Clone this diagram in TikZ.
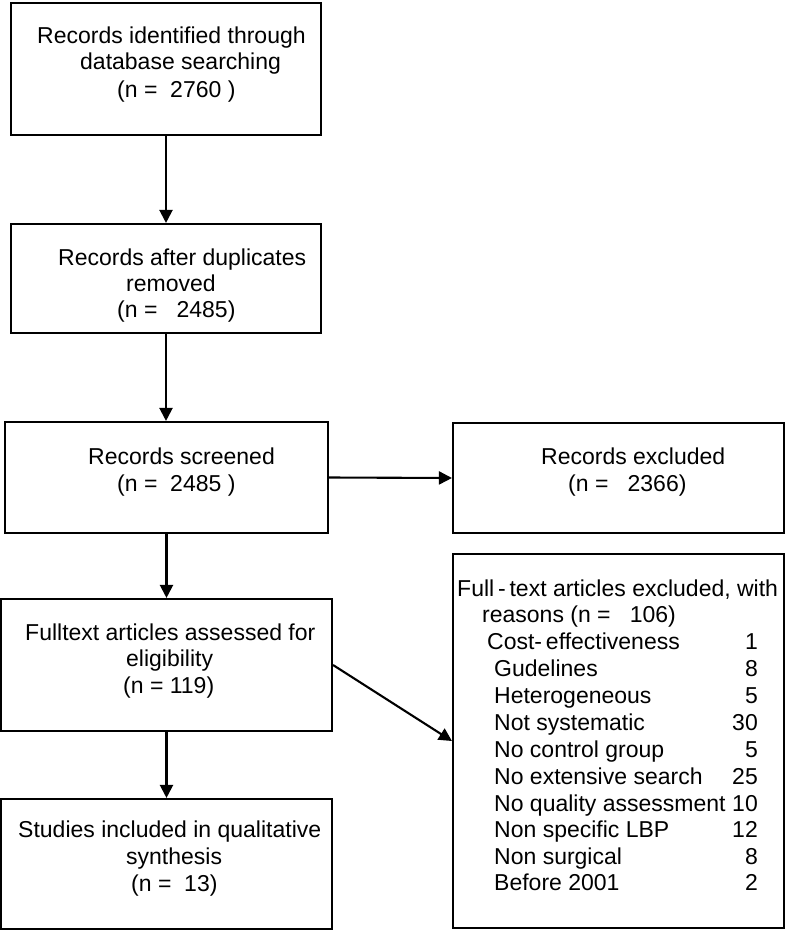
\documentclass[tikz,border=0pt]{standalone}
\usepackage{fontspec}
\setmainfont{Liberation Sans}
\usetikzlibrary{arrows.meta}
\begin{document}
\begin{tikzpicture}[x=1pt,y=-1pt,
  box/.style={draw, line width=2.1pt, rectangle, inner sep=0pt},
  txt/.style={font=\fontsize{23}{27}\selectfont, inner sep=0pt, text height=16.5pt, text depth=0pt, anchor=west},
  num/.style={txt, anchor=east},
  arr/.style={line width=2.1pt, -{Triangle[length=13pt,width=13pt]}}]
\useasboundingbox (0,0) rectangle (786,931);
% boxes
\node[box, minimum width=310pt, minimum height=132pt] (b1) at (166,69) {};
\node[box, minimum width=310pt, minimum height=109pt] (b2) at (166,278.5) {};
\node[box, minimum width=323pt, minimum height=111pt] (b3) at (166.5,477.5) {};
\node[box, minimum width=331pt, minimum height=110pt] (b4) at (618.5,478) {};
\node[box, minimum width=331pt, minimum height=132pt] (b5) at (166.5,665) {};
\node[box, minimum width=331pt, minimum height=374pt] (b6) at (618.5,741) {};
\node[box, minimum width=331pt, minimum height=130pt] (b7) at (166.5,864) {};
% box 1
\node[txt] (t1a) at (37,35) {Records identified through};
\node[txt] (t1b) at (80,61.5) {database searching};
\node[txt] (t1c) at (117,89.5) {(n = \ 2760 )};
% box 2
\node[txt] (t2a) at (58,257) {Records after duplicates};
\node[txt] (t2b) at (126,283) {removed};
\node[txt] (t2c) at (117,309) {(n = \ \ 2485)};
% box 3
\node[txt] (t3a) at (88,456) {Records screened};
\node[txt] (t3b) at (117,483) {(n = \ 2485 )};
% box 4
\node[txt] (t4a) at (541,456) {Records excluded};
\node[txt] (t4b) at (568,483) {(n = \ \ 2366)};
% box 5
\node[txt] (t5a) at (25,632) {Fulltext articles assessed for};
\node[txt] (t5b) at (126,658) {eligibility};
\node[txt] (t5c) at (123,685) {(n = 119)};
% box 7
\node[txt] (t7a) at (18,829) {Studies included in qualitative};
\node[txt] (t7b) at (126,856) {synthesis};
\node[txt] (t7c) at (131,883) {(n = \ 13)};
% box 6
\node[txt] (t6a) at (457,588) {Full\,-\,text articles excluded, with};
\node[txt] (t6b) at (482,614) {reasons (n = \ \ 106)};
\node[txt] (l1) at (487,641) {Cost-\,effectiveness};
\node[num] (n1) at (758,641) {1};
\node[txt] (l2) at (494,668) {Gudelines};
\node[num] (n2) at (758,668) {8};
\node[txt] (l3) at (494,695) {Heterogeneous};
\node[num] (n3) at (758,695) {5};
\node[txt] (l4) at (494,722) {Not systematic};
\node[num] (n4) at (758,722) {30};
\node[txt] (l5) at (494,749) {No control group};
\node[num] (n5) at (758,749) {5};
\node[txt] (l6) at (494,776) {No extensive search};
\node[num] (n6) at (758,776) {25};
\node[txt] (l7) at (494,803) {No quality assessment};
\node[num] (n7) at (758,803) {10};
\node[txt] (l8) at (494,829) {Non specific LBP};
\node[num] (n8) at (758,829) {12};
\node[txt] (l9) at (494,856) {Non surgical};
\node[num] (n9) at (758,856) {8};
\node[txt] (l10) at (494,882) {Before 2001};
\node[num] (n10) at (758,882) {2};
% arrows
\draw[arr] (b1.south) -- (b2.north);
\draw[arr] (b2.south) -- (b2.south |- b3.north);
\draw[arr] (b3.east) -- (b4.west);
\draw[arr] (b3.south) -- (b5.north);
\draw[arr] (b5.east) -- (b6.west);
\draw[arr] (b5.south) -- (b7.north);
\end{tikzpicture}
\end{document}
